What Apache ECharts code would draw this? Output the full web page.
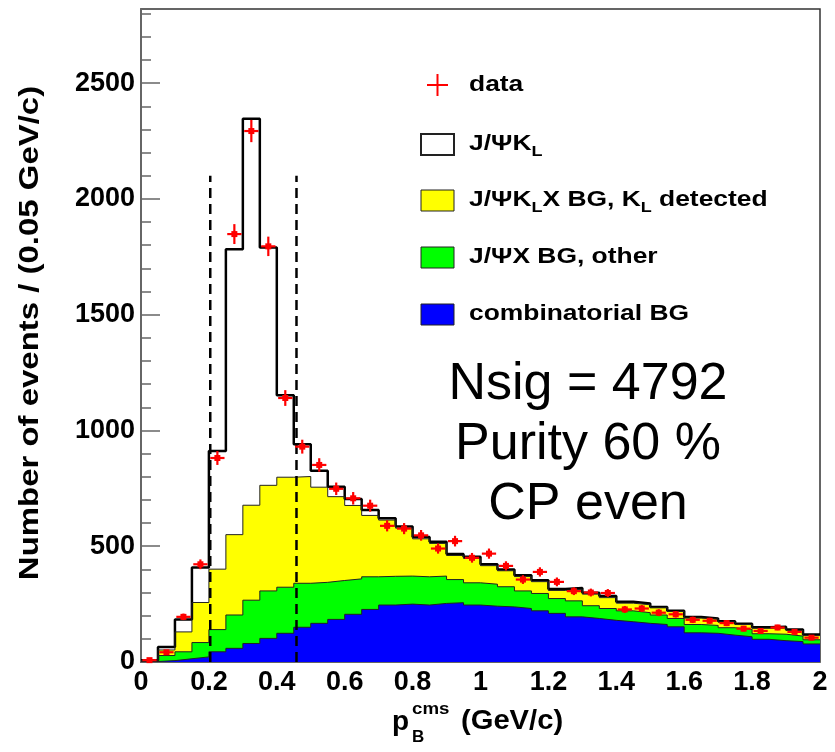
<!DOCTYPE html>
<html>
<head>
<meta charset="utf-8">
<script src="https://cdn.jsdelivr.net/npm/echarts@6/dist/echarts.min.js"></script>
<style>html,body{margin:0;padding:0;background:#fff}#c{width:835px;height:752px}</style>
</head>
<body>
<div id="c"></div>
<script>
// ---- data (bins of 0.05 GeV/c from 0 to 2) ----
const binWidth = 0.05;
const xTickLabels = ['0','0.2','0.4','0.6','0.8','1','1.2','1.4','1.6','1.8','2'];
const yTickLabels = ['0','500','1000','1500','2000','2500'];
// stacked tops (cumulative heights)
const combinatorialTop = [2,6,14,22,44,59,80,102,124,150,167,184,206,227,246,250,246,253,256,246,241,238,231,221,210,195,188,180,174,167,162,152,126,124,116,109,98,92,88,78];
const jpsiXOtherTop    = [4,28,44,84,140,203,267,307,323,340,344,352,359,368,370,371,368,371,356,342,336,325,307,296,274,264,243,231,221,213,203,188,162,158,148,141,122,120,112,96];
const jpsiKLXTop       = [6,52,130,257,401,550,677,763,798,801,755,714,676,633,613,578,532,512,460,447,416,394,369,347,309,314,293,278,254,247,235,218,190,186,173,162,146,147,136,114];
const jpsiKLSignalTop  = [8,65,183,408,911,1783,2346,1790,1152,940,826,757,704,656,621,585,540,519,466,454,422,400,375,353,315,320,299,285,260,253,238,221,194,188,176,165,150,152,140,119];
const dataCounts = [8,42,195,422,881,1848,2293,1795,1140,930,851,748,707,675,588,576,547,490,522,450,468,415,356,389,346,306,300,298,227,231,213,206,182,178,168,144,134,149,130,105];
const dataErrors = [3,6,14,21,30,43,48,42,34,30,29,27,27,26,24,24,23,22,23,21,22,20,19,20,19,17,17,17,15,15,15,14,14,13,13,12,12,12,11,10];
const cutLines = [0.204, 0.458];
const cutTop = 2100;
const yMax = 2820;

const FONT = '"Liberation Sans", Arial, Helvetica, sans-serif';

function histSeries(name, values, fill, lineColor, lineWidth) {
  const pts = values.map((v, i) => [i * binWidth, v]);
  pts.push([values.length * binWidth, values[values.length - 1]]);
  return {
    type: 'line', name, step: 'end', data: pts, symbol: 'none', animation: false,
    lineStyle: { color: lineColor, width: lineWidth },
    areaStyle: { color: fill, opacity: 1, origin: 'start' }
  };
}

const minorTicks = [];
for (let v = 0; v <= 2800; v += 100) minorTicks.push(v);

const chart = echarts.init(document.getElementById('c'), null, { renderer: 'canvas' });

const series = [
  histSeries('J/ΨK_L', jpsiKLSignalTop, '#ffffff', '#000000', 2.5),
  histSeries('J/ΨK_L X BG', jpsiKLXTop, '#ffff00', '#222222', 1),
  histSeries('J/ΨX BG, other', jpsiXOtherTop, '#00ff00', '#222222', 1),
  histSeries('combinatorial BG', combinatorialTop, '#0000ff', '#222222', 1)
];
cutLines.forEach(c => series.push({
  type: 'line', data: [[c, 0], [c, cutTop]], symbol: 'none', animation: false, z: 5,
  lineStyle: { color: '#000', width: 2.5, type: [10, 6] }
}));
series.push({
  type: 'custom', animation: false, z: 10,
  data: dataCounts.map((v, i) => [(i + 0.5) * binWidth, v, dataErrors[i]]),
  renderItem(params, api) {
    const x = api.value(0), y = api.value(1), e = api.value(2);
    const c = api.coord([x, y]);
    const l = api.coord([x - 0.021, y]);
    const r = api.coord([x + 0.021, y]);
    const t = api.coord([x, y + e]);
    const b = api.coord([x, y - e]);
    return { type: 'group', children: [
      { type: 'line', shape: { x1: l[0], y1: c[1], x2: r[0], y2: c[1] }, style: { stroke: '#ff0000', lineWidth: 2.2 } },
      { type: 'line', shape: { x1: c[0], y1: t[1], x2: c[0], y2: b[1] }, style: { stroke: '#ff0000', lineWidth: 2.2 } },
      { type: 'rect', shape: { x: c[0] - 3, y: c[1] - 3, width: 6, height: 6 }, style: { fill: '#ff0000' } }
    ]};
  }
});

// legend drawn as graphics
const legRows = [85, 144, 200, 257, 314];
const legTextX = 469;
const rich = {
  m: { fontFamily: FONT, fontWeight: 'bold', fontSize: 22, color: '#000', lineHeight: 30 },
  s: { fontFamily: FONT, fontWeight: 'bold', fontSize: 15, color: '#000', verticalAlign: 'bottom', lineHeight: 30 }
};
const legendItems = [
  { text: '{m|data}', fill: null },
  { text: '{m|J/ΨK}{s|L}', fill: '#ffffff', bw: 2 },
  { text: '{m|J/ΨK}{s|L}{m|X BG, K}{s|L}{m| detected}', fill: '#ffff00', bw: 1 },
  { text: '{m|J/ΨX BG, other}', fill: '#00ff00', bw: 1 },
  { text: '{m|combinatorial BG}', fill: '#0000ff', bw: 1 }
];
const graphics = [];
legendItems.forEach((it, k) => {
  const y = legRows[k];
  if (it.fill === null) {
    graphics.push({ type: 'line', shape: { x1: 427, y1: y, x2: 448, y2: y }, style: { stroke: '#ff0000', lineWidth: 2 } });
    graphics.push({ type: 'line', shape: { x1: 437.5, y1: y - 11, x2: 437.5, y2: y + 11 }, style: { stroke: '#ff0000', lineWidth: 2 } });
  } else {
    graphics.push({ type: 'rect', shape: { x: 421, y: y - 10, width: 33, height: 21 }, style: { fill: it.fill, stroke: '#222', lineWidth: it.bw } });
  }
  graphics.push({ type: 'text', x: legTextX, y: y, scaleX: 1.2, style: { text: it.text, rich, verticalAlign: 'middle', align: 'left' } });
});
// big annotation
[['Nsig = 4792', 385], ['Purity 60 %', 445], ['CP even', 505]].forEach(([t, y]) => {
  graphics.push({ type: 'text', x: 588, y: y, style: { text: t, fontFamily: FONT, fontSize: 52, fill: '#000', align: 'center', verticalAlign: 'middle' } });
});
// y axis title
graphics.push({ type: 'text', x: 31, y: 333, rotation: Math.PI / 2, scaleX: 1.22,
  style: { text: 'Number of events / (0.05 GeV/c)', fontFamily: FONT, fontWeight: 'bold', fontSize: 27, fill: '#000', align: 'center', verticalAlign: 'middle' } });
// x axis title p_B^cms (GeV/c)
graphics.push({ type: 'text', x: 392, y: 722, style: { text: 'p', fontFamily: FONT, fontWeight: 'bold', fontSize: 28, fill: '#000', align: 'left', verticalAlign: 'middle' } });
graphics.push({ type: 'text', x: 412, y: 709, scaleX: 1.1, style: { text: 'cms', fontFamily: FONT, fontWeight: 'bold', fontSize: 17, fill: '#000', align: 'left', verticalAlign: 'middle' } });
graphics.push({ type: 'text', x: 412, y: 737, style: { text: 'B', fontFamily: FONT, fontWeight: 'bold', fontSize: 17, fill: '#000', align: 'left', verticalAlign: 'middle' } });
graphics.push({ type: 'text', x: 461, y: 722, scaleX: 1.08, style: { text: '(GeV/c)', fontFamily: FONT, fontWeight: 'bold', fontSize: 27, fill: '#000', align: 'left', verticalAlign: 'middle' } });

chart.setOption({
  animation: false,
  backgroundColor: '#ffffff',
  grid: { left: 141, right: 15, top: 9, bottom: 90, show: true, borderColor: '#333', borderWidth: 1.5, backgroundColor: 'transparent' },
  xAxis: {
    type: 'value', min: 0, max: 2,
    axisLine: { show: true, lineStyle: { color: '#666', width: 1.5 } },
    axisTick: { show: false },
    splitLine: { show: false },
    axisLabel: { customValues: xTickLabels.map(Number), formatter: v => xTickLabels.find(s => Math.abs(Number(s) - v) < 1e-6) || '',
      fontFamily: FONT, fontWeight: 'bold', fontSize: 27, color: '#000', margin: 7 }
  },
  yAxis: [{
    type: 'value', min: 0, max: yMax,
    axisLine: { show: true, lineStyle: { color: '#666', width: 2 } },
    axisTick: { show: true, inside: true, length: 19, customValues: yTickLabels.map(Number), lineStyle: { color: '#666', width: 1.5 } },
    splitLine: { show: false },
    axisLabel: { customValues: yTickLabels.map(Number), formatter: v => yTickLabels.find(s => Number(s) === v) || '',
      fontFamily: FONT, fontWeight: 'bold', fontSize: 27, color: '#000', margin: 6 }
  }, {
    type: 'value', min: 0, max: yMax, position: 'left',
    axisLine: { show: false },
    axisTick: { show: true, inside: true, length: 10, customValues: minorTicks, lineStyle: { color: '#666', width: 1.5 } },
    splitLine: { show: false },
    axisLabel: { show: false }
  }],
  series,
  graphic: graphics
});
</script>
</body>
</html>
